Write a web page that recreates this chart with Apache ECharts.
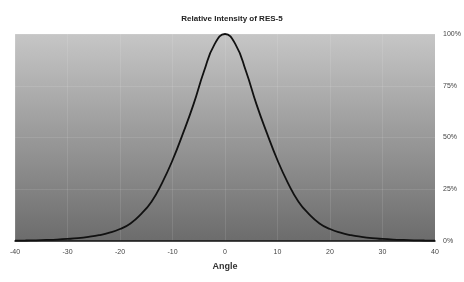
<!DOCTYPE html>
<html><head><meta charset="utf-8">
<script src="https://cdn.jsdelivr.net/npm/echarts@6/dist/echarts.min.js"></script>
<style>html,body{margin:0;padding:0;background:#fff}#c{width:464px;height:282px}</style>
</head><body><div id="c"></div>
<script>
const angles = [-40,-38,-36,-34,-32,-30,-28,-26,-24,-22,-20,-18,-16,-14,-12,-10,-8,-6,-4,-2,0,2,4,6,8,10,12,14,16,18,20,22,24,26,28,30,32,34,36,38,40];
const intensity = [0.2,0.25,0.35,0.5,0.7,1,1.4,2,2.8,4,5.8,8.5,13,19,28,39,52,66,82,95,100,95,82,66,52,39,28,19,13,8.5,5.8,4,2.8,2,1.4,1,0.7,0.5,0.35,0.25,0.2];
const xTicks = [-40,-30,-20,-10,0,10,20,30,40];
const yTicks = [0,25,50,75,100];

const chart = echarts.init(document.getElementById('c'));
chart.setOption({
  animation:false,
  title:{text:'Relative Intensity of RES-5',left:'center',top:10,textStyle:{fontSize:8,fontWeight:'bold',color:'#222',fontFamily:'Liberation Sans'}},
  grid:{left:15,right:29,top:34,bottom:41,show:true,borderWidth:0,
    backgroundColor:new echarts.graphic.LinearGradient(0,0,0,1,[{offset:0,color:'#c6c6c6'},{offset:1,color:'#6c6c6c'}])},
  xAxis:{type:'value',min:-40,max:40,interval:10,
    name:'Angle',nameLocation:'middle',nameGap:21,nameTextStyle:{fontSize:9,fontWeight:'bold',color:'#333',fontFamily:'Liberation Sans'},
    axisLine:{show:true,lineStyle:{color:'#111',width:1.5}},axisTick:{show:false},
    axisLabel:{fontSize:7,color:'#444',margin:8,fontFamily:'Liberation Sans'},
    splitLine:{show:true,lineStyle:{color:'rgba(255,255,255,0.1)',width:1}}},
  yAxis:{type:'value',min:0,max:100,interval:25,position:'right',
    axisLine:{show:false},axisTick:{show:false},
    axisLabel:{fontSize:7,color:'#444',margin:8,formatter:'{value}%',fontFamily:'Liberation Sans'},
    splitLine:{show:true,lineStyle:{color:'rgba(255,255,255,0.1)',width:1}}},
  series:[{type:'line',data:angles.map((a,i)=>[a,intensity[i]]),smooth:true,showSymbol:false,
    lineStyle:{color:'#111',width:1.8}}]
});
</script></body></html>
